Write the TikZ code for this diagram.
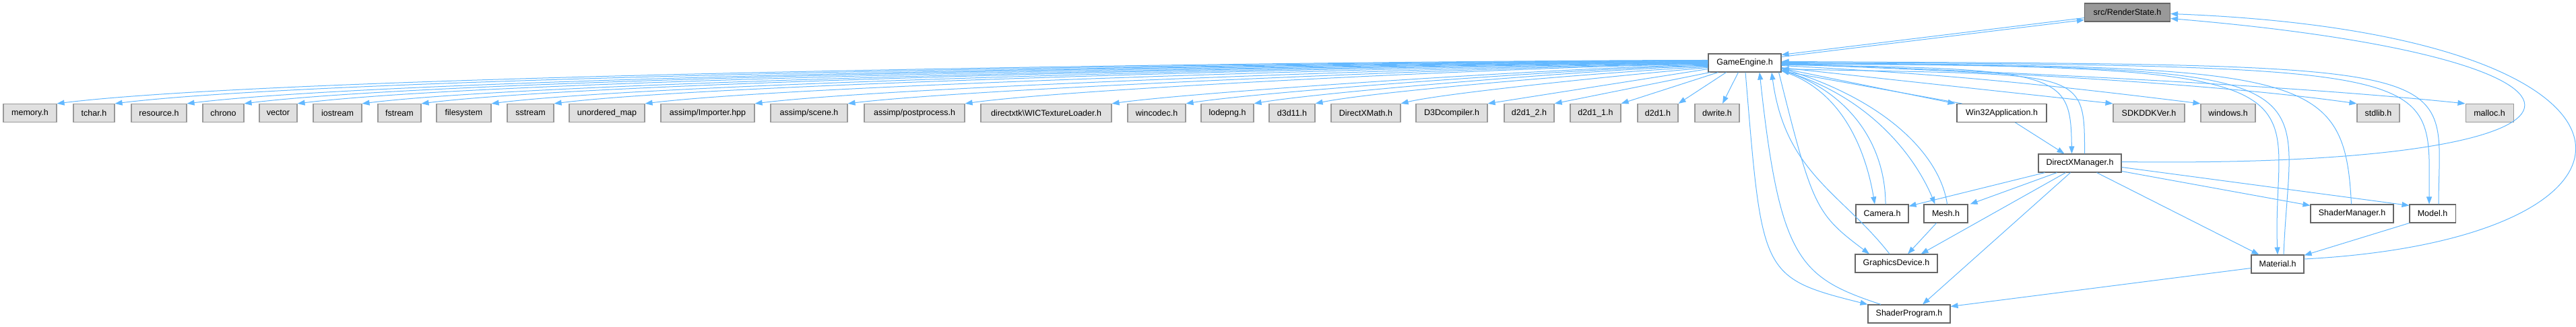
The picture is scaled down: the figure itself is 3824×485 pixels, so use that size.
\documentclass[tikz,border=0pt]{standalone}
\usepackage{fontspec}
\setmainfont{Liberation Sans}
\usetikzlibrary{arrows.meta}
\definecolor{edgeblue}{HTML}{63B8FF}
\definecolor{sysfill}{HTML}{E0E0E0}
\definecolor{sysdraw}{HTML}{999999}
\definecolor{rootfill}{HTML}{999999}
\definecolor{filedraw}{HTML}{666666}
\begin{document}
\begin{tikzpicture}
        [x=1pt, y=1pt, inner sep=0pt,
         >={Triangle[length=11pt,width=8pt]},
         box/.style={rectangle, minimum height=27pt, line width=1.1pt, font=\fontsize{12.5}{15}\selectfont},
         sys/.style={box, draw=sysdraw, fill=sysfill},
         file/.style={box, draw=filedraw, fill=white},
         root/.style={box, draw=filedraw, fill=rootfill},
         dep/.style={->, draw=edgeblue, line width=1pt}]
        \useasboundingbox (0,0) rectangle (3824,485);
        \node (rs)         at (3158,466.5)[root, minimum width=127pt] {src/RenderState.h};
        \node (ge)         at (2590,391.5)[file, minimum width=108pt] {GameEngine.h};
        \node (mem)        at (44.5,317)  [sys, minimum width=79pt]  {memory.h};
        \node (tchar)      at (139.5,317) [sys, minimum width=61pt]  {tchar.h};
        \node (res)        at (236,317)   [sys, minimum width=82pt]  {resource.h};
        \node (chrono)     at (331.5,317) [sys, minimum width=61pt]  {chrono};
        \node (vector)     at (413,317)   [sys, minimum width=56pt]  {vector};
        \node (iostream)   at (501,317)   [sys, minimum width=72pt]  {iostream};
        \node (fstream)    at (593,317)   [sys, minimum width=64pt]  {fstream};
        \node (filesystem) at (688.5,317) [sys, minimum width=81pt]  {filesystem};
        \node (sstream)    at (787.5,317) [sys, minimum width=69pt]  {sstream};
        \node (umap)       at (901,317)   [sys, minimum width=112pt] {unordered\_map};
        \node (importer)   at (1050.5,317)[sys, minimum width=139pt] {assimp/Importer.hpp};
        \node (scene)      at (1201,317)  [sys, minimum width=114pt] {assimp/scene.h};
        \node (postproc)   at (1357.5,317)[sys, minimum width=149pt] {assimp/postprocess.h};
        \node (wic)        at (1553,317)  [sys, minimum width=194pt] {directxtk\textbackslash WICTextureLoader.h};
        \node (wincodec)   at (1717,317)  [sys, minimum width=86pt]  {wincodec.h};
        \node (lodepng)    at (1822,317)  [sys, minimum width=78pt]  {lodepng.h};
        \node (d3d11)      at (1918,317)  [sys, minimum width=68pt]  {d3d11.h};
        \node (dxmath)     at (2027.5,317)[sys, minimum width=103pt] {DirectXMath.h};
        \node (d3dcomp)    at (2155,317)  [sys, minimum width=106pt] {D3Dcompiler.h};
        \node (d2d12)      at (2270,317)  [sys, minimum width=74pt]  {d2d1\_2.h};
        \node (d2d11)      at (2368.5,317)[sys, minimum width=75pt]  {d2d1\_1.h};
        \node (d2d1)       at (2461,317)  [sys, minimum width=60pt]  {d2d1.h};
        \node (dwrite)     at (2549,317)  [sys, minimum width=66pt]  {dwrite.h};
        \node (win32)      at (2971.5,317)[file, minimum width=133pt] {Win32Application.h};
        \node (sdk)        at (3190,317)  [sys, minimum width=106pt] {SDKDDKVer.h};
        \node (windows)    at (3307.5,317)[sys, minimum width=81pt]  {windows.h};
        \node (stdlib)     at (3530.5,317)[sys, minimum width=63pt]  {stdlib.h};
        \node (malloc)     at (3695.5,317)[sys, minimum width=71pt]  {malloc.h};
        \node (dxm)        at (3087.5,242.5)[file, minimum width=123pt] {DirectXManager.h};
        \node (camera)     at (2794,167.5)[file, minimum width=78pt]  {Camera.h};
        \node (mesh)       at (2888.5,167.5)[file, minimum width=65pt] {Mesh.h};
        \node (shmgr)      at (3491.5,167.5)[file, minimum width=123pt] {ShaderManager.h};
        \node (model)      at (3611,167.5)[file, minimum width=68pt]  {Model.h};
        \node (gfx)        at (2815,93.5) [file, minimum width=122pt] {GraphicsDevice.h};
        \node (material)   at (3381,92.5) [file, minimum width=78pt]  {Material.h};
        \node (shprog)     at (2834,18.5) [file, minimum width=122pt] {ShaderProgram.h};
        \draw [dep] ([yshift=6pt]rs.south west) -- ([yshift=-2pt]ge.north east);
        \draw [dep] ([yshift=-5pt]ge.north east) -- ([yshift=3pt]rs.south west);
        \draw [dep] ([yshift=4pt]ge.west) .. controls +(-384,0) and +(381,47) .. (mem.north east);
        \draw [dep] ([yshift=3.5pt]ge.west) .. controls +(-371,0) and +(368,45) .. (tchar.north east);
        \draw [dep] ([yshift=3pt]ge.west) .. controls +(-354,0) and +(351,43) .. (res.north east);
        \draw [dep] ([yshift=2.5pt]ge.west) .. controls +(-341,0) and +(338,42) .. (chrono.north east);
        \draw [dep] ([yshift=2pt]ge.west) .. controls +(-328,0) and +(326,40) .. (vector.north east);
        \draw [dep] ([yshift=1.5pt]ge.west) .. controls +(-313,0) and +(311,38) .. (iostream.north east);
        \draw [dep] ([yshift=1pt]ge.west) .. controls +(-300,0) and +(298,37) .. (fstream.north east);
        \draw [dep] ([yshift=0.5pt]ge.west) .. controls +(-283,0) and +(281,35) .. (filesystem.north east);
        \draw [dep] (ge.west) .. controls +(-269,0) and +(267,33) .. (sstream.north east);
        \draw [dep] ([yshift=-0.5pt]ge.west) .. controls +(-248,0) and +(246,30) .. (umap.north east);
        \draw [dep] ([yshift=-1pt]ge.west) .. controls +(-222,0) and +(220,27) .. (importer.north east);
        \draw [dep] ([yshift=-1.5pt]ge.west) .. controls +(-200,0) and +(199,24) .. (scene.north east);
        \draw [dep] ([yshift=-2pt]ge.west) .. controls +(-173,0) and +(171,24) .. (postproc.north east);
        \draw [dep] ([yshift=-3pt]ge.west) .. controls +(-139,0) and +(138,19) .. (wic.north east);
        \draw [dep] ([yshift=-4pt]ge.west) .. controls +(-122,0) and +(120,19) .. (wincodec.north east);
        \draw [dep] ([yshift=-5pt]ge.west) .. controls +(-106,0) and +(104,18) .. (lodepng.north east);
        \draw [dep] ([yshift=-6pt]ge.west) .. controls +(-92,-3) and +(90,19) .. (d3d11.north east);
        \draw [dep] ([yshift=-7pt]ge.west) .. controls +(-72,-6) and +(70,17) .. (dxmath.north east);
        \draw [dep] ([yshift=-9pt]ge.west) -- (d3dcomp.north east);
        \draw [dep] ([xshift=3pt]ge.south west) -- (d2d12.north east);
        \draw [dep] ([xshift=15pt]ge.south west) -- (d2d11.north east);
        \draw [dep] ([xshift=27pt]ge.south west) -- (d2d1.north east);
        \draw [dep] ([xshift=45pt]ge.south west) -- ([xshift=8pt]dwrite.north);
        \draw [dep] ([yshift=-8pt]ge.east) -- ([xshift=-2pt]win32.north west);
        \draw [dep] ([xshift=8pt]win32.north west) -- ([yshift=-12pt]ge.east);
        \draw [dep] ([yshift=-7pt]ge.east) -- (sdk.north west);
        \draw [dep] ([yshift=-4pt]ge.east) .. controls +(245,-13) and +(-243,30) .. (windows.north west);
        \draw [dep] ([yshift=-2pt]ge.east) .. controls +(235,-8) and +(-233,33) .. (stdlib.north west);
        \draw [dep] ([yshift=-1pt]ge.east) .. controls +(279,-10) and +(-278,29) .. (malloc.north west);
        \draw [dep] ([yshift=-3pt]ge.east) .. controls +(420,-5) and +(-2,120) .. ([xshift=-12pt]dxm.north);
        \draw [dep] ([xshift=7pt]dxm.north) .. controls +(0,130) and +(450,-10) .. ([yshift=-9pt]ge.east);
        \draw [dep] ([xshift=20pt]win32.south) -- ([xshift=-23pt]dxm.north);
        \draw [dep] ([yshift=2pt]ge.south east) .. controls +(100,-30) and +(-10,60) .. ([xshift=-11pt]camera.north);
        \draw [dep] ([xshift=5pt]camera.north) .. controls +(0,80) and +(110,-40) .. ([yshift=4pt]ge.south east);
        \draw [dep] ([yshift=3pt]ge.south east) .. controls +(140,-40) and +(-25,60) .. ([xshift=-16pt]mesh.north);
        \draw [dep] ([xshift=2pt]mesh.north) .. controls +(-10,70) and +(160,-50) .. ([yshift=6pt]ge.south east);
        \draw [dep] ([xshift=-4pt]ge.south east) .. controls +(50,-200) and +(-80,60) .. ([xshift=-40pt]gfx.north);
        \draw [dep] ([xshift=-10pt]gfx.north) .. controls +(-70,90) and +(20,-150) .. ([xshift=40pt]ge.south);
        \draw [dep] ([xshift=1pt]ge.south) .. controls +(25,-300) and +(-160,40) .. (shprog.north west);
        \draw [dep] ([xshift=-42pt]shprog.north) .. controls +(-120,40) and +(30,-280) .. ([xshift=22pt]ge.south);
        \draw [dep] ([yshift=-2pt]ge.east) .. controls +(860,0) and +(-10,250) .. (material.north);
        \draw [dep] ([xshift=9pt]material.north) .. controls +(10,270) and +(850,-5) .. ([yshift=-1pt]ge.east);
        \draw [dep] ([yshift=1pt]ge.east) .. controls +(1000,-5) and +(0,200) .. ([xshift=-5pt]model.north);
        \draw [dep] ([xshift=9pt]model.north) .. controls +(0,210) and +(1050,-5) .. ([yshift=2pt]ge.east);
        \draw [dep] ([xshift=-1pt]shmgr.north) .. controls +(-10,200) and +(780,-5) .. (ge.east);
        \draw [dep] ([yshift=2pt]dxm.east) .. controls +(783,-10) and +(711,-60) .. ([yshift=-9pt]rs.east);
        \draw [dep] ([yshift=7.5pt]material.east) .. controls +(565,30) and +(764,-30) .. ([yshift=-2pt]rs.east);
        \draw [dep] ([xshift=-52pt]dxm.south) -- ([yshift=-3pt]camera.north east);
        \draw [dep] ([xshift=-34pt]dxm.south) -- ([xshift=3pt]mesh.north east);
        \draw [dep] ([xshift=-21pt]dxm.south) -- ([xshift=-25pt]gfx.north east);
        \draw [dep] ([xshift=-14pt]dxm.south) -- ([xshift=20pt]shprog.north);
        \draw [dep] ([xshift=25pt]dxm.south) -- ([xshift=12pt]material.north west);
        \draw [dep] ([yshift=-12pt]dxm.east) -- ([yshift=-2pt]shmgr.north west);
        \draw [dep] ([yshift=-6pt]dxm.east) -- ([yshift=-2pt]model.north west);
        \draw [dep] ([xshift=-14pt]mesh.south) -- ([xshift=17pt]gfx.north);
        \draw [dep] (model.south west) -- ([yshift=-1pt]material.north east);
        \draw [dep] ([yshift=-6pt]material.west) -- ([yshift=11pt]shprog.east);
    \end{tikzpicture}
\end{document}
